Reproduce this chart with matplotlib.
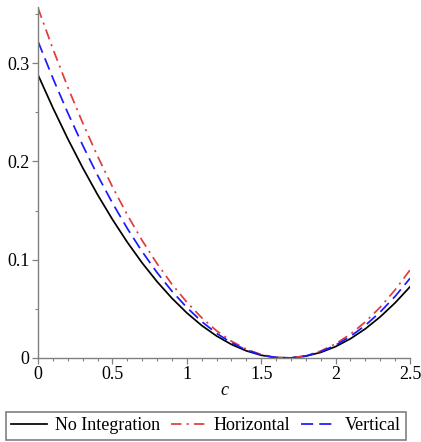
import numpy as np
import matplotlib
matplotlib.use("Agg")
import matplotlib.pyplot as plt
from matplotlib.ticker import MultipleLocator, FixedLocator

# values, c = 0 .. 2.5 step 0.1
c = [0.0, 0.1, 0.2, 0.3, 0.4, 0.5, 0.6, 0.7, 0.8, 0.9, 1.0, 1.1, 1.2,
     1.3, 1.4, 1.5, 1.6, 1.7, 1.8, 1.9, 2.0, 2.1, 2.2, 2.3, 2.4, 2.5]
no_integration = [0.288, 0.2545, 0.2230, 0.1936, 0.1662, 0.1410, 0.1178,
                  0.0967, 0.0777, 0.0608, 0.0459, 0.0331, 0.0224, 0.0138,
                  0.0073, 0.0028, 0.0004, 0.0001, 0.0019, 0.0057, 0.0116,
                  0.0196, 0.0297, 0.0419, 0.0561, 0.0724]
horizontal = [0.356, 0.3145, 0.2755, 0.2392, 0.2054, 0.1742, 0.1456,
              0.1195, 0.0960, 0.0751, 0.0568, 0.0410, 0.0277, 0.0171,
              0.0090, 0.0035, 0.0005, 0.0001, 0.0023, 0.0071, 0.0144,
              0.0243, 0.0367, 0.0517, 0.0693, 0.0895]
vertical = [0.322, 0.2846, 0.2494, 0.2165, 0.1859, 0.1577, 0.1318,
            0.1082, 0.0869, 0.0680, 0.0514, 0.0371, 0.0251, 0.0155,
            0.0081, 0.0031, 0.0005, 0.0001, 0.0021, 0.0064, 0.0130,
            0.0220, 0.0332, 0.0468, 0.0627, 0.0810]

x_ticks = [0, 0.5, 1, 1.5, 2, 2.5]
x_labels = ["0", "0.5", "1", "1.5", "2", "2.5"]
y_ticks = [0, 0.1, 0.2, 0.3]
y_labels = ["0", "0.1", "0.2", "0.3"]

plt.rcParams["font.family"] = ["Liberation Serif", "DejaVu Serif"]

fig = plt.figure(figsize=(4.21, 4.42), dpi=100)
ax = fig.add_axes([38 / 421, 1 - 358 / 442, 372 / 421, 351 / 442])

ax.plot(c, no_integration, color="black", lw=1.25, label="No Integration")
ax.plot(c, horizontal, color="#e03c3c", lw=1.25, dashes=(6, 3, 1.2, 3),
        label="Horizontal")
ax.plot(c, vertical, color="#1a1aff", lw=1.25, dashes=(7, 3.5),
        label="Vertical")

ax.set_xlim(0, 2.5)
ax.set_ylim(0, 0.357)
ax.xaxis.set_major_locator(FixedLocator(x_ticks))
ax.set_xticklabels(x_labels)
ax.yaxis.set_major_locator(FixedLocator(y_ticks))
ax.set_yticklabels(y_labels)
ax.xaxis.set_minor_locator(MultipleLocator(0.1))
ax.yaxis.set_minor_locator(MultipleLocator(0.05))

for s in ["top", "right"]:
    ax.spines[s].set_visible(False)
for s in ["left", "bottom"]:
    ax.spines[s].set_color("#808080")
    ax.spines[s].set_linewidth(1.0)

ax.tick_params(which="major", direction="out", length=4, width=0.9,
               color="#808080", labelsize=13, pad=2)
ax.tick_params(which="minor", direction="out", length=2.5, width=0.8,
               color="#808080")
ax.set_xlabel("c", fontsize=13, style="italic", labelpad=-1)

leg = fig.legend(loc="center", bbox_to_anchor=(206 / 421, 1 - 426 / 442),
                 ncol=3, fontsize=13, frameon=True, fancybox=False,
                 handlelength=2.0, handletextpad=0.4, columnspacing=0.6,
                 borderpad=0.3, borderaxespad=0)
leg.get_frame().set_edgecolor("#606060")
leg.get_frame().set_linewidth(1.2)

fig.savefig("out.png", dpi=100)
